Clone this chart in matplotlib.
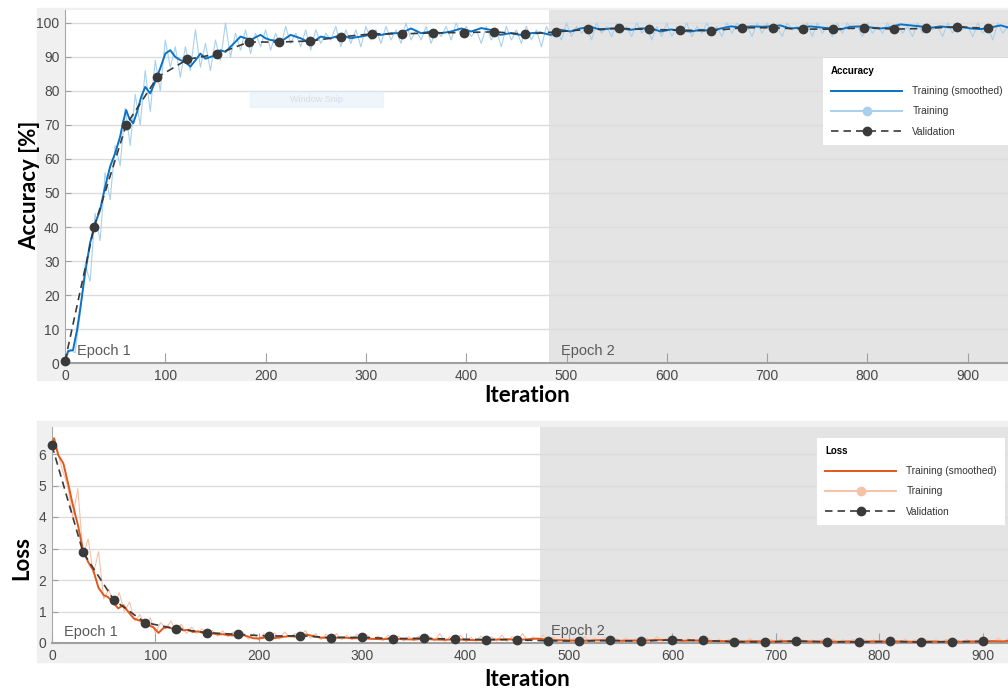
import matplotlib
matplotlib.use("Agg")
import matplotlib.pyplot as plt
import numpy as np
from matplotlib.patches import Rectangle
from matplotlib.lines import Line2D

# ---- data ----
val_acc_it = [0, 29, 61, 92, 122, 152, 183, 213, 244, 275, 306, 336, 367, 398, 428, 459,
              490, 521, 552, 582, 613, 644, 675, 706, 736, 766, 797, 827, 858, 889, 920]
val_acc = [0.5, 40, 70, 84, 89.3, 90.9, 94.4, 94.4, 94.7, 95.9, 96.8, 96.8, 97.1, 97.2, 97.4, 96.7,
           97.4, 98.1, 98.4, 98.1, 97.9, 97.7, 98.6, 98.6, 98.2, 98.2, 98.6, 98.2, 98.4, 98.9, 98.4]

acc_raw_it = list(range(0, 941, 5))
acc_raw = [0.5, 4, 3, 14, 29, 24, 44, 36, 56, 48,
           64, 58, 75, 64, 79, 70, 86, 74, 89, 80,
           95, 87, 93, 84, 93, 86, 98, 87, 94, 86,
           95, 89, 100, 90, 97, 92, 98, 91, 97, 93,
           98, 92, 97, 93, 99, 94, 97, 93, 98, 92,
           98, 94, 97, 95, 99, 93, 98, 94, 98, 93,
           99, 95, 98, 94, 99, 95, 98, 94, 100, 95,
           98, 95, 99, 94, 98, 96, 99, 95, 100, 96,
           99, 96, 98, 94, 99, 95, 98, 93, 99, 95,
           98, 94, 99, 95, 98, 93, 99, 96, 98, 95,
           100, 96, 99, 97, 99, 95, 100, 97, 99, 96,
           100, 97, 99, 96, 100, 97, 99, 95, 99, 96,
           100, 96, 99, 97, 100, 96, 99, 97, 100, 97,
           99, 96, 100, 97, 100, 98, 99, 96, 100, 97,
           100, 97, 99, 96, 100, 98, 99, 97, 100, 96,
           100, 97, 99, 96, 100, 97, 100, 98, 99, 96,
           100, 97, 99, 97, 100, 98, 100, 97, 99, 96,
           100, 97, 100, 98, 99, 96, 100, 97, 100, 98,
           99, 96, 100, 97, 99, 95, 100, 97, 99]

acc_sm_it = [0, 3, 8, 12, 16, 20, 25, 30, 35, 40, 45, 50, 55, 58, 61, 64, 68, 72, 76, 80,
             85, 90, 95, 100, 105, 110, 115, 120, 125, 130, 135, 140, 145, 150, 155, 160, 165, 170, 175, 180,
             185, 190, 195, 200, 205, 210, 215, 220, 225, 230, 235, 240, 245, 250, 255, 260, 265, 270, 275, 280,
             285, 290, 295, 300, 305, 315, 325, 335, 345, 355, 365, 375, 385, 395, 405, 415, 424, 434, 444, 454,
             464, 474, 484, 494, 504, 514, 524, 534, 544, 554, 564, 574, 584, 594, 604, 614, 624, 634, 644, 654,
             664, 674, 684, 694, 704, 713, 723, 733, 743, 753, 763, 773, 783, 793, 803, 813, 823, 833, 843, 853,
             863, 873, 883, 893, 903, 913, 923, 933, 940]
acc_sm = [0.5, 3.5, 3.8, 9.7, 17.6, 26.4, 35.3, 41, 45, 51.8, 57.8, 61.7, 66.6, 71, 74.4, 72, 70.5, 74, 78.3, 81.2,
          79.3, 82.8, 86.7, 91, 92, 90, 89.1, 88.5, 87.2, 89, 91, 89.5, 90, 90.5, 92, 91.5, 93, 94.5, 96, 95.5,
          95, 95.8, 96.5, 95.5, 95, 94.8, 94.5, 95.5, 96.5, 96, 95.5, 94.8, 94, 95, 96, 95.7, 95.5, 96, 96.5, 96,
          95.5, 95.8, 96, 96.3, 96.5, 96.5, 97, 97, 98.4, 97, 97.5, 97, 97.5, 98.4, 97.5, 98.5, 98, 96.5, 97, 96.5,
          97, 97.2, 96.5, 98, 97.5, 98.4, 98.9, 98, 98.4, 98.4, 98, 98.4, 98.4, 97.5, 98.1, 97.7, 97.5, 98, 97.7, 98.4,
          99, 98.7, 99, 98.9, 99, 99.3, 98.4, 98.6, 99, 98.7, 98.4, 98.1, 98.9, 99, 98.7, 98.4, 98.7, 99.6, 99.3, 99,
          98.6, 99, 98.7, 98.9, 98.4, 98.2, 98.7, 99.3, 98.7]

val_loss_it = list(range(0, 901, 30))
val_loss = [6.27, 2.88, 1.36, 0.65, 0.45, 0.33, 0.27, 0.22, 0.23, 0.17, 0.18, 0.14, 0.15, 0.12, 0.11, 0.10,
            0.07, 0.06, 0.08, 0.06, 0.10, 0.08, 0.04, 0.03, 0.06, 0.04, 0.03, 0.05, 0.03, 0.04, 0.05]

loss_raw_it = list(range(0, 926, 5))
loss_raw = [6.3, 6.1, 5.5, 5.0, 4.0, 4.9, 2.8, 3.3, 2.2, 2.9,
            1.4, 1.7, 1.2, 1.6, 1.0, 1.3, 0.7, 0.9, 0.6, 0.8,
            0.3, 0.65, 0.45, 0.7, 0.35, 0.6, 0.3, 0.5, 0.3, 0.45,
            0.25, 0.4, 0.22, 0.38, 0.2, 0.35, 0.2, 0.33, 0.12, 0.3,
            0.1, 0.3, 0.15, 0.32, 0.12, 0.35, 0.18, 0.3, 0.2, 0.4,
            0.15, 0.3, 0.1, 0.28, 0.12, 0.3, 0.1, 0.25, 0.1, 0.28,
            0.08, 0.25, 0.1, 0.22, 0.08, 0.25, 0.1, 0.22, 0.06, 0.2,
            0.08, 0.22, 0.06, 0.2, 0.07, 0.3, 0.05, 0.2, 0.06, 0.25,
            0.05, 0.18, 0.06, 0.22, 0.05, 0.2, 0.06, 0.25, 0.05, 0.2,
            0.06, 0.3, 0.05, 0.2, 0.08, 0.25, 0.06, 0.18, 0.05, 0.15,
            0.04, 0.15, 0.03, 0.2, 0.04, 0.15, 0.05, 0.18, 0.04, 0.15,
            0.03, 0.16, 0.04, 0.14, 0.03, 0.15, 0.04, 0.2, 0.05, 0.16,
            0.04, 0.15, 0.03, 0.14, 0.04, 0.12, 0.03, 0.15, 0.02, 0.12,
            0.03, 0.12, 0.02, 0.1, 0.03, 0.14, 0.02, 0.1, 0.03, 0.12,
            0.02, 0.13, 0.03, 0.1, 0.02, 0.12, 0.03, 0.1, 0.02, 0.11,
            0.03, 0.12, 0.02, 0.1, 0.03, 0.11, 0.02, 0.12, 0.03, 0.1,
            0.02, 0.11, 0.03, 0.1, 0.02, 0.12, 0.03, 0.1, 0.02, 0.11,
            0.03, 0.1, 0.02, 0.12, 0.03, 0.1, 0.02, 0.11, 0.03, 0.1,
            0.02, 0.12, 0.03, 0.15, 0.04, 0.14]

loss_sm_it = [0, 2, 6, 11, 16, 20, 25, 30, 35, 40, 45, 50, 54, 59, 64, 69, 74, 79, 83, 88,
              93, 98, 103, 108, 112, 117, 122, 127, 132, 136, 141, 146, 151, 156, 161, 165, 170, 175, 180, 186,
              190, 195, 200, 205, 210, 215, 220, 225, 230, 235, 240, 245, 250, 255, 260, 270, 280, 290, 300, 310,
              320, 330, 340, 350, 360, 370, 380, 390, 400, 410, 420, 430, 440, 450, 460, 470, 480, 490, 500, 510,
              520, 530, 540, 550, 560, 570, 580, 590, 600, 610, 620, 630, 640, 650, 660, 670, 680, 690, 700, 710,
              720, 730, 740, 750, 760, 770, 780, 790, 800, 810, 820, 830, 840, 850, 860, 870, 880, 890, 900, 910,
              920, 925]
loss_sm = [6.3, 6.5, 5.97, 5.7, 5.0, 4.4, 3.75, 2.95, 2.57, 2.3, 1.75, 1.52, 1.46, 1.3, 1.1, 1.2, 0.98, 0.78, 0.73, 0.67,
           0.57, 0.5, 0.32, 0.48, 0.5, 0.45, 0.54, 0.4, 0.42, 0.35, 0.37, 0.32, 0.3, 0.3, 0.27, 0.28, 0.25, 0.24, 0.28, 0.24,
           0.2, 0.15, 0.14, 0.17, 0.2, 0.15, 0.18, 0.2, 0.22, 0.2, 0.24, 0.27, 0.24, 0.2, 0.17, 0.16, 0.18, 0.15, 0.15, 0.13,
           0.12, 0.14, 0.12, 0.11, 0.13, 0.11, 0.1, 0.12, 0.1, 0.09, 0.1, 0.11, 0.12, 0.1, 0.12, 0.14, 0.1, 0.09, 0.08, 0.07,
           0.08, 0.09, 0.08, 0.07, 0.08, 0.07, 0.09, 0.1, 0.09, 0.07, 0.08, 0.07, 0.06, 0.06, 0.05, 0.05, 0.06, 0.04, 0.05, 0.06,
           0.05, 0.05, 0.04, 0.05, 0.04, 0.05, 0.04, 0.05, 0.05, 0.04, 0.05, 0.04, 0.04, 0.05, 0.04, 0.05, 0.04, 0.05, 0.05, 0.06,
           0.05, 0.07]

epoch2_acc = 483
epoch2_loss = 472

W, H = 1008, 688
fig = plt.figure(figsize=(W / 100, H / 100), dpi=100)
fig.patch.set_facecolor("white")


def fx(px):
    return px / W


def fy(py):
    return 1 - py / H


# gray panels behind each plot, like the MATLAB window
for (x0, y0, x1, y1) in [(37, 8, 1008, 380), (37, 421, 1008, 662)]:
    fig.patches.append(Rectangle((fx(x0), fy(y1)), fx(x1 - x0), (y1 - y0) / H,
                                 transform=fig.transFigure, color="#f0f0f0", zorder=-5))

tick_font = "Liberation Sans"
blue, blue_l = "#0b72c4", "#a9d0ec"
orange, orange_l = "#e2581c", "#f5c2a8"
vcol = "#3a3a3a"
dash = (0, (4.5, 3))


def style_axes(ax, xmax, ymax, yticks):
    ax.set_facecolor("white")
    ax.set_xlim(0, xmax)
    ax.set_ylim(0, ymax)
    ax.set_xticks(range(0, 901, 100))
    ax.set_yticks(yticks)
    ax.grid(axis="y", color="#dcdcdc", linewidth=1)
    ax.set_axisbelow(True)
    for s in ["top", "right"]:
        ax.spines[s].set_visible(False)
    ax.spines["left"].set_color("#a8a8a8")
    ax.spines["bottom"].set_color("#a0a0a0")
    ax.spines["bottom"].set_linewidth(1.5)
    ax.tick_params(direction="in", length=7, colors="#a0a0a0", labelcolor="#4a4a4a",
                   labelsize=10, pad=4)
    ax.tick_params(axis="y", length=4)
    for lab in ax.get_xticklabels() + ax.get_yticklabels():
        lab.set_fontfamily(tick_font)


def style_legend(leg):
    leg.get_title().set_fontweight("bold")
    leg.get_title().set_fontfamily(tick_font)
    leg.get_frame().set_linewidth(0)
    for t in leg.get_texts():
        t.set_color("#333333")


# ---- accuracy ----
ax1 = fig.add_axes([fx(65), fy(363), fx(1008 - 65), (363 - 10) / H])
style_axes(ax1, (1008 - 65) / 1.003, (363 - 10) / 3.4, range(0, 101, 10))
ax1.axvspan(epoch2_acc, 1000, color="#e4e4e4", zorder=0, lw=0)
ax1.plot(acc_raw_it, acc_raw, color=blue_l, lw=0.8, zorder=2)
ax1.plot(acc_sm_it, acc_sm, color=blue, lw=1.4, zorder=3)
ax1.plot(val_acc_it, val_acc, color=vcol, ls=dash, lw=1.2, marker="o",
         ms=6, mfc=vcol, mec=vcol, zorder=4, clip_on=False)
ax1.text(12, 3.5, "Epoch 1", fontsize=10.5, color="#5a5a5a", family=tick_font, va="center")
ax1.text(epoch2_acc + 12, 3.5, "Epoch 2", fontsize=10.5, color="#5a5a5a", family=tick_font, va="center")

h1 = [Line2D([0, 1], [0, 0], color=blue, lw=1.4),
      Line2D([0, 0.5, 1], [0, 0, 0], color=blue_l, lw=1.4, marker="o", ms=6, markevery=[1]),
      Line2D([0, 0.5, 1], [0, 0, 0], color=vcol, ls=dash, lw=1.2, marker="o", ms=6, markevery=[1])]
leg1 = ax1.legend(h1, ["Training (smoothed)", "Training", "Validation"], title="Accuracy",
                  loc="upper left", bbox_to_anchor=(fx(818), fy(53)), bbox_transform=fig.transFigure,
                  frameon=True, fancybox=False, facecolor="white", framealpha=1,
                  handlelength=7, labelspacing=1.0, borderpad=0.8, handletextpad=1.0,
                  alignment="left", prop={"family": tick_font, "size": 7.3}, title_fontsize=7)
style_legend(leg1)

# faint "Window Snip" overlay left in the screenshot
fig.patches.append(Rectangle((fx(250), fy(107)), fx(133), 15 / H, transform=fig.transFigure,
                             color="#eaf3fb", alpha=0.8, zorder=5))
fig.text(fx(316), fy(100), "Window Snip", fontsize=6.5, color="#d4dee8", ha="center", va="center",
         family=tick_font, zorder=6)

# ---- loss ----
ax2 = fig.add_axes([fx(52), fy(643), fx(1008 - 52), (643 - 427) / H])
style_axes(ax2, (1008 - 52) / 1.034, (643 - 427) / 31.5, range(0, 7))
ax2.axvspan(epoch2_loss, 1000, color="#e4e4e4", zorder=0, lw=0)
ax2.plot(loss_raw_it, loss_raw, color=orange_l, lw=0.8, zorder=2)
ax2.plot(loss_sm_it, loss_sm, color=orange, lw=1.4, zorder=3)
ax2.plot(val_loss_it, val_loss, color=vcol, ls=dash, lw=1.2, marker="o",
         ms=6, mfc=vcol, mec=vcol, zorder=4, clip_on=False)
ax2.text(12, 0.35, "Epoch 1", fontsize=10.5, color="#5a5a5a", family=tick_font, va="center")
ax2.text(epoch2_loss + 11, 0.38, "Epoch 2", fontsize=10.5, color="#5a5a5a", family=tick_font, va="center")

h2 = [Line2D([0, 1], [0, 0], color=orange, lw=1.4),
      Line2D([0, 0.5, 1], [0, 0, 0], color=orange_l, lw=1.4, marker="o", ms=6, markevery=[1]),
      Line2D([0, 0.5, 1], [0, 0, 0], color=vcol, ls=dash, lw=1.2, marker="o", ms=6, markevery=[1])]
leg2 = ax2.legend(h2, ["Training (smoothed)", "Training", "Validation"], title="Loss",
                  loc="upper left", bbox_to_anchor=(fx(812), fy(433)), bbox_transform=fig.transFigure,
                  frameon=True, fancybox=False, facecolor="white", framealpha=1,
                  handlelength=7, labelspacing=1.0, borderpad=0.8, handletextpad=1.0,
                  alignment="left", prop={"family": tick_font, "size": 7.3}, title_fontsize=7)
style_legend(leg2)

# axis titles
lab_kw = dict(fontsize=16, fontweight="bold", family="Lato", color="black")
fig.text(fx(30), fy(185), "Accuracy [%]", rotation=90, ha="center", va="center", **lab_kw)
fig.text(fx(527), fy(395), "Iteration", ha="center", va="center", **lab_kw)
fig.text(fx(22), fy(558), "Loss", rotation=90, ha="center", va="center", **lab_kw)
fig.text(fx(527), fy(679), "Iteration", ha="center", va="center", **lab_kw)

fig.savefig("out.png", dpi=100)
